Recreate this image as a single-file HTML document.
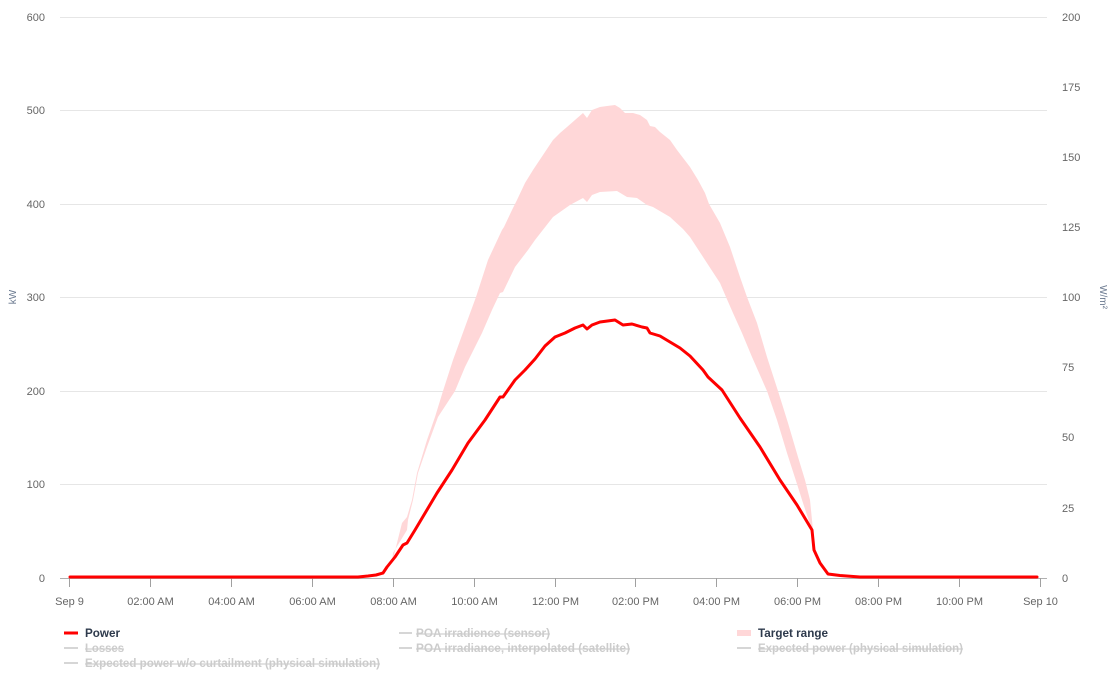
<!DOCTYPE html>
<html><head><meta charset="utf-8"><style>
html,body{margin:0;padding:0;background:#fff;}
svg{display:block;font-family:"Liberation Sans",Arial,sans-serif;}
.ax{font-size:11px;fill:#666;}
.lg{font-size:11.5px;font-weight:bold;}
.off{fill:#cccccc;text-decoration:line-through;}
</style></head><body>
<svg width="1115" height="680" viewBox="0 0 1115 680" xmlns="http://www.w3.org/2000/svg">
<g stroke="#e6e6e6" stroke-width="1">
<line x1="60" y1="17.5" x2="1047" y2="17.5"/>
<line x1="60" y1="110.5" x2="1047" y2="110.5"/>
<line x1="60" y1="204.5" x2="1047" y2="204.5"/>
<line x1="60" y1="297.5" x2="1047" y2="297.5"/>
<line x1="60" y1="391.5" x2="1047" y2="391.5"/>
<line x1="60" y1="484.5" x2="1047" y2="484.5"/>
</g>
<g class="ax" text-anchor="end">
<text x="45" y="21">600</text>
<text x="45" y="114">500</text>
<text x="45" y="208">400</text>
<text x="45" y="301">300</text>
<text x="45" y="395">200</text>
<text x="45" y="488">100</text>
<text x="45" y="582">0</text>
</g>
<g class="ax">
<text x="1062" y="21">200</text>
<text x="1062" y="91">175</text>
<text x="1062" y="161">150</text>
<text x="1062" y="231">125</text>
<text x="1062" y="301">100</text>
<text x="1062" y="371">75</text>
<text x="1062" y="441">50</text>
<text x="1062" y="512">25</text>
<text x="1062" y="582">0</text>
</g>
<text transform="translate(16,297) rotate(-90)" text-anchor="middle" style="font-size:10px;fill:#6b7a90">kW</text>
<text transform="translate(1100,297) rotate(90)" text-anchor="middle" style="font-size:10px;fill:#6b7a90">W/m²</text>
<polygon fill="#ffd7d8" points="392,563 397,543 402,523 407,517 412,500 417,473 427,440 435,417 443,391 453,360 465,327 476,297 488,260 502,230 504,227 512,210 517,200 525,183 533,170 543,155 553,140 560,133 567,127 575,120 583,113 587,118 592,110 600,107 607,106 615,105 620,108 625,113 633,113 640,115 647,120 650,126 655,127 660,132 670,140 677,150 690,167 698,180 705,193 709,204 720,223 730,247 740,277 747,297 757,323 767,357 778,391 788,423 798,457 805,480 810,500 813,530 812,530 803,503 797,484 787,453 777,420 767,391 752,357 742,333 733,313 726,297 720,283 705,260 690,237 683,229 670,217 653,207 647,205 637,198 627,197 617,191 600,192 592,195 587,202 583,198 570,205 553,217 535,240 528,250 515,267 503,292 500,293 492,310 482,333 465,367 455,391 438,417 427,447 418,473 413,500 408,520 407,530 393,553"/>
<line x1="60" y1="578.5" x2="1047" y2="578.5" stroke="#b0b0b0" stroke-width="1"/>
<g stroke="#a0a0a0" stroke-width="1">
<line x1="69.5" y1="578" x2="69.5" y2="587"/>
<line x1="150.5" y1="578" x2="150.5" y2="587"/>
<line x1="231.5" y1="578" x2="231.5" y2="587"/>
<line x1="312.5" y1="578" x2="312.5" y2="587"/>
<line x1="393.5" y1="578" x2="393.5" y2="587"/>
<line x1="474.5" y1="578" x2="474.5" y2="587"/>
<line x1="555.5" y1="578" x2="555.5" y2="587"/>
<line x1="635.5" y1="578" x2="635.5" y2="587"/>
<line x1="716.5" y1="578" x2="716.5" y2="587"/>
<line x1="797.5" y1="578" x2="797.5" y2="587"/>
<line x1="878.5" y1="578" x2="878.5" y2="587"/>
<line x1="959.5" y1="578" x2="959.5" y2="587"/>
<line x1="1040.5" y1="578" x2="1040.5" y2="587"/>
</g>
<g class="ax" text-anchor="middle">
<text x="69.5" y="605">Sep 9</text>
<text x="150.5" y="605">02:00 AM</text>
<text x="231.5" y="605">04:00 AM</text>
<text x="312.5" y="605">06:00 AM</text>
<text x="393.5" y="605">08:00 AM</text>
<text x="474.5" y="605">10:00 AM</text>
<text x="555.5" y="605">12:00 PM</text>
<text x="635.5" y="605">02:00 PM</text>
<text x="716.5" y="605">04:00 PM</text>
<text x="797.5" y="605">06:00 PM</text>
<text x="878.5" y="605">08:00 PM</text>
<text x="959.5" y="605">10:00 PM</text>
<text x="1040.5" y="605">Sep 10</text>
</g>
<polyline fill="none" stroke="#ff0000" stroke-width="3" stroke-linejoin="round" stroke-linecap="round" points="70,577 358,577 368,576 376,575 383,573 387,567 395,557 403,545 407,543 415,530 437,493 452,470 468,443 485,420 500,397 503,397 515,380 525,370 535,359 545,346 555,337 565,333 575,328 583,325 587,329 592,325 600,322 615,320 623,325 632,324 642,327 647,328 650,333 660,336 670,342 680,348 690,356 703,370 708,377 722,390 740,418 760,447 780,480 797,505 812,530 814,550 820,563 828,574 840,575.5 860,577 1037,577"/>
<!-- legend -->
<line x1="64" y1="633" x2="78" y2="633" stroke="#ff0000" stroke-width="3"/>
<text class="lg" x="85" y="637" fill="#2e3a4c" textLength="35" lengthAdjust="spacingAndGlyphs">Power</text>
<line x1="64" y1="648" x2="78" y2="648" stroke="#d6d6d6" stroke-width="2"/>
<text class="lg off" x="85" y="652" textLength="39" lengthAdjust="spacingAndGlyphs">Losses</text>
<line x1="64" y1="663" x2="78" y2="663" stroke="#d6d6d6" stroke-width="2"/>
<text class="lg off" x="85" y="667" textLength="295" lengthAdjust="spacingAndGlyphs">Expected power w/o curtailment (physical simulation)</text>
<line x1="399" y1="633" x2="412" y2="633" stroke="#d6d6d6" stroke-width="2"/>
<text class="lg off" x="416" y="637" textLength="134" lengthAdjust="spacingAndGlyphs">POA irradience (sensor)</text>
<line x1="399" y1="648" x2="412" y2="648" stroke="#d6d6d6" stroke-width="2"/>
<text class="lg off" x="416" y="652" textLength="214" lengthAdjust="spacingAndGlyphs">POA irradiance, interpolated (satellite)</text>
<rect x="737" y="630" width="14" height="6" fill="#ffd7d8"/>
<text class="lg" x="758" y="637" fill="#2e3a4c" textLength="70" lengthAdjust="spacingAndGlyphs">Target range</text>
<line x1="737" y1="648" x2="751" y2="648" stroke="#d6d6d6" stroke-width="2"/>
<text class="lg off" x="758" y="652" textLength="205" lengthAdjust="spacingAndGlyphs">Expected power (physical simulation)</text>
</svg>
</body></html>
